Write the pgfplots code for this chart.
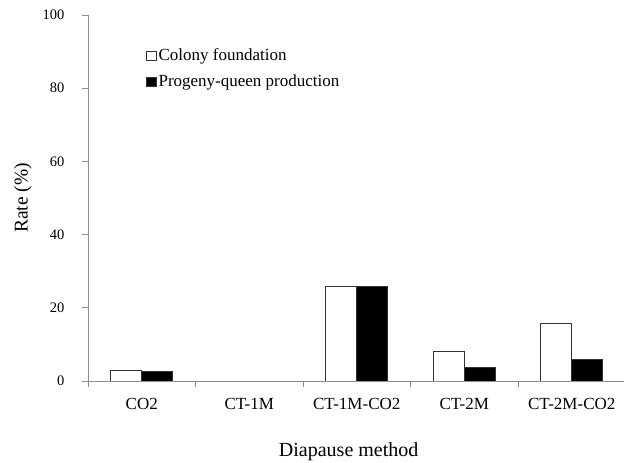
\documentclass[border=0pt]{standalone}
\usepackage{pgfplots}
\pgfplotsset{compat=1.18}
\usepackage{fontspec}
\setmainfont{Liberation Serif}
\definecolor{axgray}{RGB}{140,140,140}
\begin{document}
\begin{tikzpicture}
\path[use as bounding box] (0,0) rectangle (624bp,463bp);
\begin{axis}[
  at={(88bp,82bp)}, anchor=south west,
  scale only axis, width=537.5bp, height=366bp,
  xmin=-0.5, xmax=4.5, ymin=0, ymax=100,
  axis x line*=bottom, axis y line*=left,
  axis line style={draw=axgray, line width=0.9bp},
  tick align=outside,
  xtick={0,1,2,3,4},
  xticklabels={CO2,CT-1M,CT-1M-CO2,CT-2M,CT-2M-CO2},
  major x tick style={draw=none},
  minor xtick={-0.5,0.5,1.5,2.5,3.5,4.5},
  minor tick length=6bp,
  major tick length=6bp,
  tick style={draw=axgray, line width=0.9bp},
  ytick={0,20,40,60,80,100},
  /pgf/number format/assume math mode=true,
  yticklabel style={font=\fontsize{14.5bp}{16bp}\selectfont, xshift=-14bp},
  xticklabel style={font=\fontsize{17bp}{19bp}\selectfont, yshift=-8bp},
  xlabel={Diapause method},
  ylabel={Rate (\%)},
  xlabel style={font=\fontsize{20bp}{22bp}\selectfont, at={(axis description cs:0.485,-0.205)}, anchor=base},
  ylabel style={font=\fontsize{19.5bp}{22bp}\selectfont, at={(axis description cs:-0.1209,0.5)}, anchor=center},
  ybar=0pt, bar width=0.288,
  legend style={at={(rel axis cs:0.108,0.913)}, anchor=north west, draw=none, fill=none,
    inner xsep=0pt, inner ysep=0pt, row sep=7.5bp,
    font=\fontsize{17bp}{19bp}\selectfont,
    nodes={inner sep=1.5bp, text height=12bp, text depth=3.5bp}},
  legend cell align=left,
  legend image code/.code={\draw[#1] (0bp,-4.5bp) rectangle (10bp,4.5bp);},
]
\addplot[fill=white, draw=black!80, line width=0.8bp] coordinates {(0,3.0) (2,25.8) (3,8.0) (4,15.8)};
\addplot[fill=black, draw=black!80, line width=0.8bp] coordinates {(0,2.7) (2,25.8) (3,3.7) (4,5.9)};
\legend{Colony foundation, Progeny-queen production}
\end{axis}
\end{tikzpicture}
\end{document}
